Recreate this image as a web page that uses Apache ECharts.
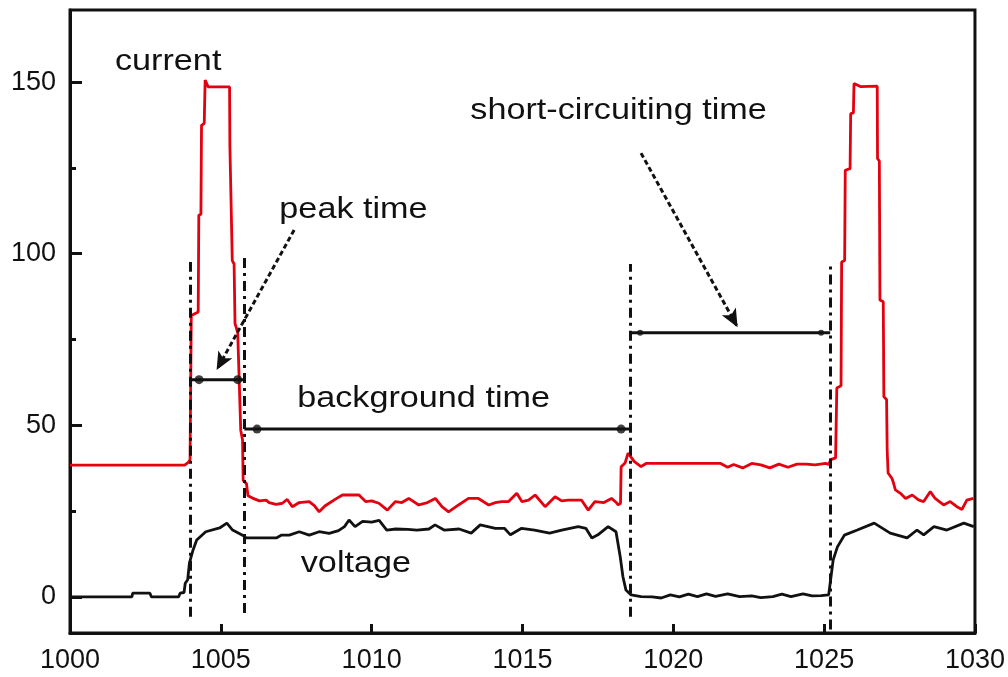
<!DOCTYPE html>
<html><head><meta charset="utf-8">
<script src="https://cdn.jsdelivr.net/npm/echarts@6/dist/echarts.min.js"></script>
<style>html,body{margin:0;padding:0;background:#fff}#c{width:1008px;height:677px}</style>
</head><body><div id="c"></div>
<script>
// ---- data ----
const xTicks = [1000, 1005, 1010, 1015, 1020, 1025, 1030];
const yTicks = [0, 50, 100, 150];
const yMinorTicks = [25, 75, 125];

const currentData = [
  [1000,38.4],[1003.8,38.4],[1003.92,39.2],[1003.98,40],[1004.02,82],[1004.25,83],
  [1004.27,111.2],[1004.34,111.5],[1004.36,137.4],[1004.45,138],[1004.48,150.6],[1004.58,148.6],
  [1005.29,148.6],[1005.3,131.6],[1005.36,131.2],[1005.38,98],[1005.44,97],[1005.47,79.7],
  [1005.56,77],[1005.66,48.6],[1005.72,45.7],[1005.74,34],[1005.85,33],[1005.9,29.5],
  [1006.05,28.8],[1006.28,28],[1006.5,28.2],[1006.6,27.5],[1006.83,27],[1007.04,27.3],
  [1007.2,28.4],[1007.37,26.3],[1007.6,27.5],[1007.93,27.8],[1008.1,26.6],[1008.26,24.8],
  [1008.45,26.5],[1008.59,27.3],[1008.8,28.5],[1009.03,29.7],[1009.58,29.7],[1009.8,27.8],
  [1010.0,28],[1010.24,27.3],[1010.52,25.3],[1010.79,27.8],[1011.0,27.5],[1011.23,28.7],
  [1011.56,26.8],[1011.85,27.5],[1012.11,28.7],[1012.33,26.3],[1012.55,24.8],[1012.88,26.8],
  [1013.21,28.7],[1013.54,28.7],[1013.88,26.8],[1014.1,27.5],[1014.31,27.8],[1014.54,27.8],
  [1014.81,30.2],[1014.98,27.8],[1015.2,28.2],[1015.42,29.7],[1015.75,26.3],[1016.08,29.2],
  [1016.3,28],[1016.52,28.2],[1016.96,28.2],[1017.18,25.3],[1017.4,27.8],[1017.7,27.5],
  [1017.95,28.7],[1018.1,27.6],[1018.17,26.8],[1018.25,27.3],[1018.27,37.9],[1018.4,39],
  [1018.5,41.9],[1018.7,39.5],[1018.93,38],[1019.1,38.9],[1021.57,38.9],[1021.8,37.8],
  [1022.0,38.6],[1022.3,37.6],[1022.6,38.9],[1022.9,38.5],[1023.2,37.6],[1023.5,38.7],
  [1023.8,37.8],[1024.1,38.7],[1024.4,38.7],[1024.7,38.5],[1025.05,38.9],[1025.15,38.6],
  [1025.22,40],[1025.38,40.5],[1025.42,60.9],[1025.56,61.5],[1025.58,97.6],[1025.68,98],
  [1025.7,124.3],[1025.86,124.8],[1025.88,140.8],[1025.97,141],[1025.99,149.6],[1026.2,148.7],
  [1026.76,148.8],[1026.77,127.7],[1026.83,127],[1026.85,86.5],[1026.96,86],[1026.98,58.3],
  [1027.07,57.5],[1027.09,42.8],[1027.12,36.1],[1027.25,34.5],[1027.3,33.2],[1027.36,31.2],
  [1027.53,30.2],[1027.7,28.7],[1027.92,29.7],[1028.14,28.2],[1028.3,27.8],[1028.52,30.7],
  [1028.68,28.7],[1028.96,26.8],[1029.18,27.8],[1029.4,26.3],[1029.57,25.5],[1029.73,28.2],
  [1029.95,28.7]
];

const voltageData = [
  [1000,0],[1002.05,0],[1002.08,1.1],[1002.65,1.1],[1002.7,0],[1003.6,0],[1003.65,1.1],
  [1003.78,1.3],[1003.82,4],[1003.9,5],[1003.96,9.9],[1004.08,13.7],[1004.2,16.6],[1004.5,19],
  [1004.96,20.1],[1005.2,21.5],[1005.39,19.5],[1005.72,18],[1005.84,17.2],[1006.84,17.2],
  [1007.0,18],[1007.27,18],[1007.6,19],[1007.93,18],[1008.26,19],[1008.59,18.5],[1008.9,19.3],
  [1009.1,20.5],[1009.25,22.4],[1009.45,20.5],[1009.7,22],[1010.0,21.8],[1010.25,22.3],
  [1010.5,19.5],[1010.8,19.8],[1011.2,19.7],[1011.5,19.5],[1011.9,19.8],[1012.1,21],
  [1012.4,19.5],[1012.9,19.8],[1013.3,18.6],[1013.6,21],[1014.1,20],[1014.4,20],[1014.6,18.1],
  [1014.97,20],[1015.4,19.5],[1015.9,18.6],[1016.3,19.5],[1016.85,20.5],[1017.1,20],
  [1017.3,17.2],[1017.5,18.1],[1017.84,20.5],[1018.1,19],[1018.24,11.7],[1018.33,5.9],
  [1018.43,2],[1018.6,0.6],[1018.93,0.1],[1019.3,0],[1019.6,-0.3],[1019.9,0.6],[1020.2,0],
  [1020.5,0.8],[1020.8,0.1],[1021.1,0.9],[1021.4,0.2],[1021.8,0.9],[1022.2,0.1],[1022.6,0.3],
  [1022.9,-0.2],[1023.3,0.1],[1023.6,0.8],[1023.9,0.1],[1024.3,0.9],[1024.6,0.3],[1024.9,0.4],
  [1025.15,0.6],[1025.2,4],[1025.3,10.8],[1025.44,14.6],[1025.67,18],[1026.1,19.5],
  [1026.66,21.5],[1027.19,18.6],[1027.75,17.2],[1028.08,19.5],[1028.3,18.1],[1028.64,20.5],
  [1029.07,19.5],[1029.63,21.5],[1029.96,20.5]
];

// vertical dash-dot boundary markers
const markerX = [1004.0, 1005.78, 1018.57, 1025.2];
const markerTop = [97.6, 99, 97, 96.7];
const markerBottom = [-5.8, -4.7, -5.8, -9.5];

// horizontal time spans
const spanStart = [1004.02, 1005.78, 1018.57];
const spanEnd = [1005.76, 1018.57, 1025.2];
const spanY = [63.3, 48.9, 77.0];
const spanDotX = [[1004.28, 1005.56], [1006.2, 1018.27], [1018.9, 1024.9]];
const spanDotSize = [9, 9, 6];

// pointer arrows
const arrowFrom = [[1007.43, 106.9], [1018.93, 129.3]];
const arrowTo = [[1004.86, 66.1], [1022.13, 78.6]];

// text annotations (left x, baseline y)
const labelTexts = ['current', 'peak time', 'background time', 'short-circuiting time', 'voltage'];
const labelX = [1001.49, 1006.94, 1007.53, 1013.27, 1007.65];
const labelY = [152.9, 109.8, 54.7, 138.4, 6.4];

// ---- chart ----
const FONT = 'Liberation Sans, Arial, Helvetica, sans-serif';
const INK = '#111';
const chart = echarts.init(document.getElementById('c'), null, {renderer: 'canvas'});

const series = [];
series.push({
  type: 'line', data: currentData, showSymbol: false, symbol: 'none',
  lineStyle: {color: '#e3000f', width: 2.8}, z: 4, silent: true
});
series.push({
  type: 'line', data: voltageData, showSymbol: false, symbol: 'none',
  lineStyle: {color: INK, width: 2.8}, z: 4, silent: true,
  markLine: {
    silent: true, animation: false,
    symbol: ['none', 'none'],
    label: {show: false},
    lineStyle: {color: INK, width: 3, type: [10, 5, 3, 5]},
    data: markerX.map((x, i) => [{coord: [x, markerBottom[i]]}, {coord: [x, markerTop[i]]}])
      .concat(arrowFrom.map((f, i) => [
        {coord: f, symbol: 'none', lineStyle: {type: [5, 3], width: 3}},
        {coord: arrowTo[i], symbol: 'arrow', symbolSize: [12, 18]}
      ]))
  }
});
spanStart.forEach((s, i) => {
  series.push({
    type: 'line', data: [[s, spanY[i]], [spanEnd[i], spanY[i]]],
    showSymbol: false, symbol: 'none', silent: true, z: 5,
    lineStyle: {color: INK, width: 3}
  });
  series.push({
    type: 'scatter', data: spanDotX[i].map(x => [x, spanY[i]]),
    symbol: 'circle', symbolSize: spanDotSize[i], silent: true, z: 6,
    itemStyle: {color: INK}
  });
});

const yCommon = {
  type: 'value', min: -10.5, max: 171, position: 'left',
  splitLine: {show: false}
};
const plain = v => String(Math.round(v));

chart.setOption({
  animation: false,
  backgroundColor: '#fff',
  grid: {left: 70, right: 30, top: 10, bottom: 44, show: true, borderColor: INK, borderWidth: 3},
  xAxis: {
    type: 'value', min: 1000, max: 1030, interval: 5,
    axisLine: {onZero: false, lineStyle: {color: INK, width: 3}},
    axisTick: {inside: true, length: 9, lineStyle: {color: INK, width: 3}},
    axisLabel: {fontSize: 27, color: INK, fontFamily: FONT, margin: 14,
      customValues: xTicks, formatter: plain},
    splitLine: {show: false}
  },
  yAxis: [
    Object.assign({}, yCommon, {
      axisLine: {show: true, onZero: false, lineStyle: {color: INK, width: 3}},
      axisTick: {show: true, inside: true, length: 12, lineStyle: {color: INK, width: 3}, customValues: yTicks},
      axisLabel: {fontSize: 27, color: INK, fontFamily: FONT, margin: 14, customValues: yTicks, formatter: plain}
    }),
    Object.assign({}, yCommon, {
      axisLine: {show: false, onZero: false},
      axisTick: {show: true, inside: true, length: 6, lineStyle: {color: INK, width: 3}, customValues: yMinorTicks},
      axisLabel: {show: false}
    })
  ],
  series: series
});

// annotation texts positioned from data coordinates
const FS = 30;
const graphics = labelTexts.map((t, i) => {
  const p = chart.convertToPixel({gridIndex: 0}, [labelX[i], labelY[i]]);
  return {
    type: 'text', x: p[0], y: p[1] - 0.36 * FS, scaleX: 1.14, z: 10, silent: true,
    style: {text: t, fill: INK, font: FS + 'px ' + FONT, align: 'left', verticalAlign: 'middle'}
  };
});
chart.setOption({graphic: graphics});
</script>
</body></html>
